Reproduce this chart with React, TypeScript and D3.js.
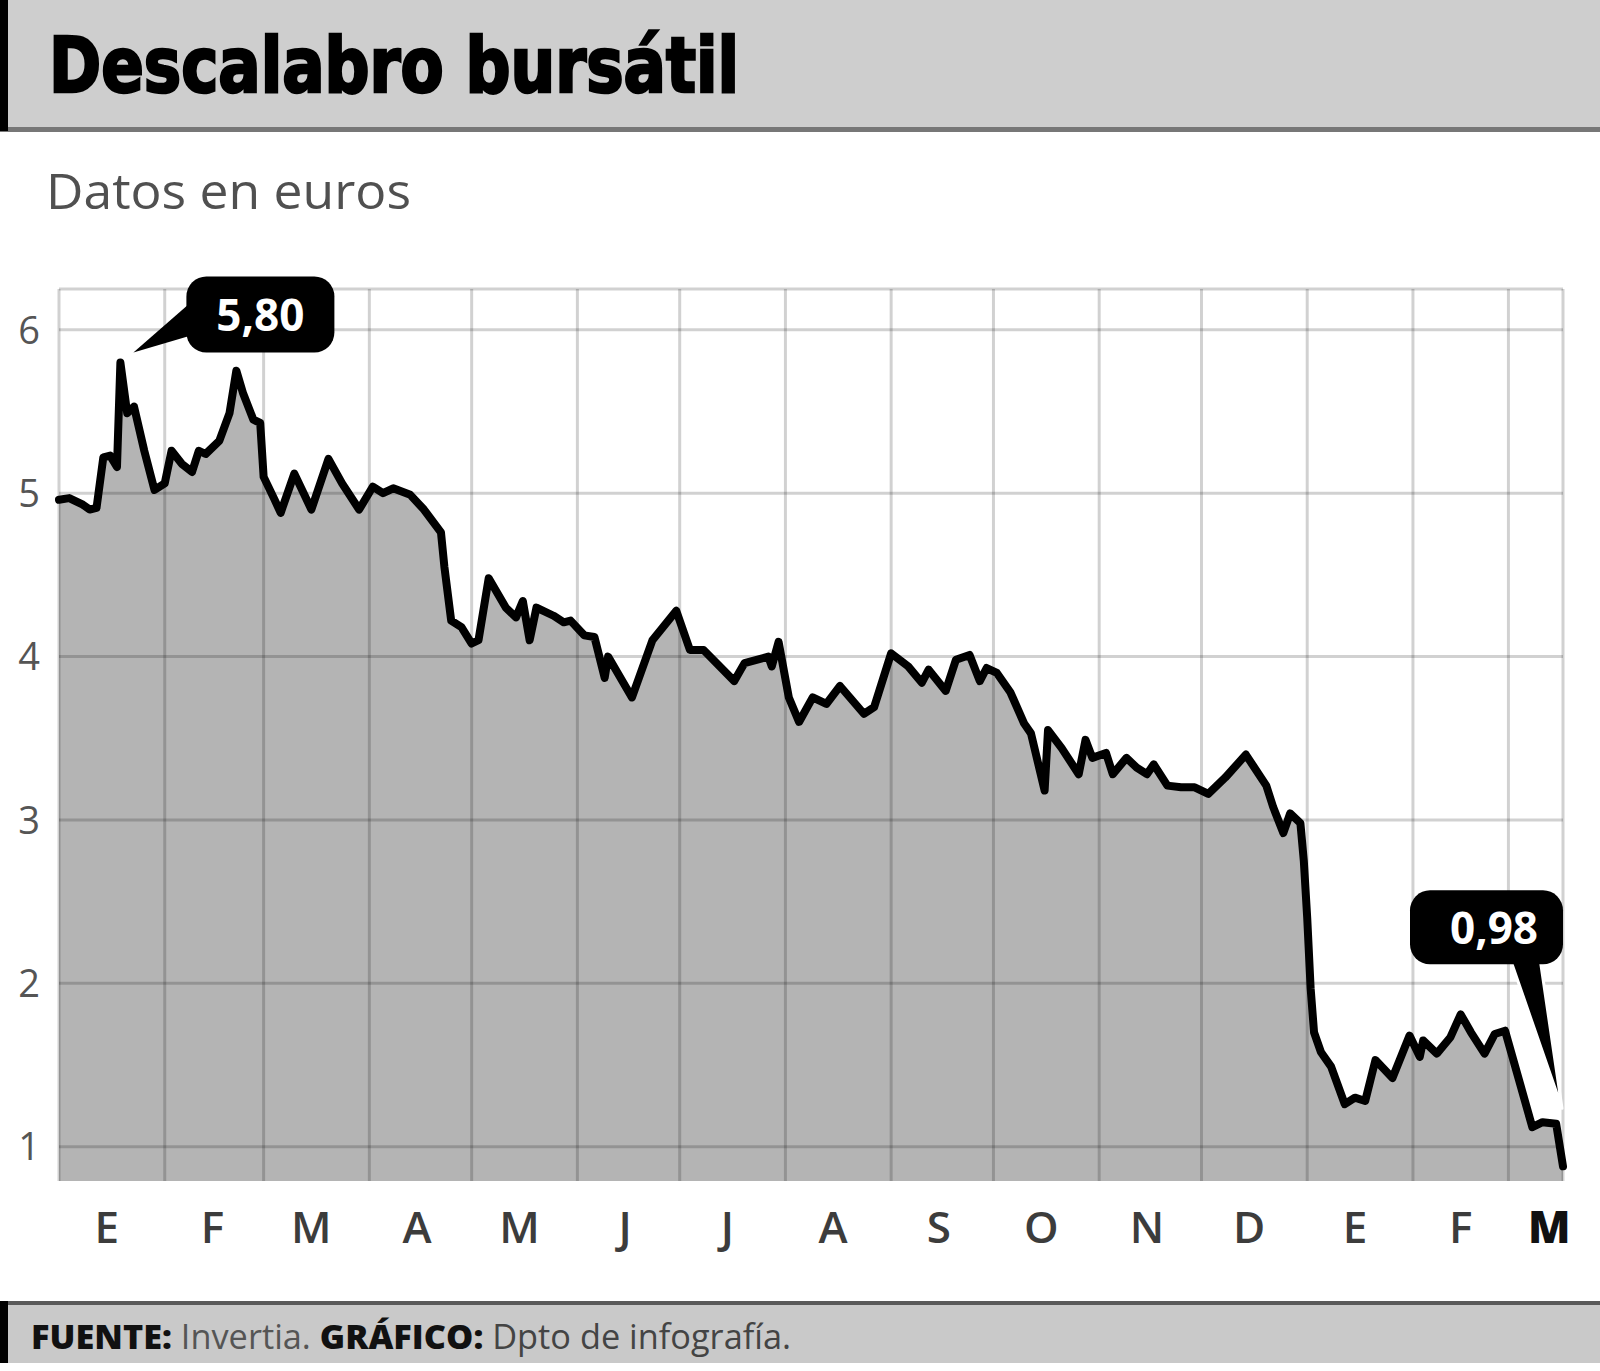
import React from "react";
import * as d3 from "d3";

// ---------- data ----------
const seriesDates: string[] = [
  "2008-01-01", "2008-01-04", "2008-01-08", "2008-01-10", "2008-01-12", "2008-01-14", "2008-01-16", "2008-01-18",
  "2008-01-19", "2008-01-21", "2008-01-23", "2008-01-26", "2008-01-29", "2008-02-01", "2008-02-03", "2008-02-06",
  "2008-02-09", "2008-02-11", "2008-02-13", "2008-02-17", "2008-02-20", "2008-02-22", "2008-02-24", "2008-02-27",
  "2008-02-29", "2008-03-01", "2008-03-04", "2008-03-06", "2008-03-10", "2008-03-15", "2008-03-20", "2008-03-24",
  "2008-03-29", "2008-04-02", "2008-04-05", "2008-04-08", "2008-04-13", "2008-04-17", "2008-04-22", "2008-04-23",
  "2008-04-25", "2008-04-28", "2008-05-01", "2008-05-03", "2008-05-06", "2008-05-11", "2008-05-14", "2008-05-16",
  "2008-05-18", "2008-05-20", "2008-05-25", "2008-05-28", "2008-05-30", "2008-06-03", "2008-06-06", "2008-06-09",
  "2008-06-10", "2008-06-17", "2008-06-23", "2008-06-30", "2008-07-04", "2008-07-08", "2008-07-17", "2008-07-20",
  "2008-07-27", "2008-07-28", "2008-07-30", "2008-08-02", "2008-08-05", "2008-08-09", "2008-08-13", "2008-08-17",
  "2008-08-24", "2008-08-27", "2008-09-01", "2008-09-06", "2008-09-10", "2008-09-12", "2008-09-17", "2008-09-20",
  "2008-09-24", "2008-09-27", "2008-09-29", "2008-10-02", "2008-10-06", "2008-10-10", "2008-10-12", "2008-10-16",
  "2008-10-17", "2008-10-21", "2008-10-26", "2008-10-28", "2008-10-30", "2008-11-03", "2008-11-05", "2008-11-09",
  "2008-11-12", "2008-11-15", "2008-11-17", "2008-11-21", "2008-11-25", "2008-11-29", "2008-12-01", "2008-12-03",
  "2008-12-08", "2008-12-14", "2008-12-20", "2008-12-22", "2008-12-25", "2008-12-27", "2008-12-30", "2008-12-31",
  "2009-01-01", "2009-01-02", "2009-01-03", "2009-01-05", "2009-01-08", "2009-01-12", "2009-01-15", "2009-01-18",
  "2009-01-21", "2009-01-26", "2009-01-31", "2009-02-03", "2009-02-04", "2009-02-08", "2009-02-12", "2009-02-15",
  "2009-02-18", "2009-02-22", "2009-02-25", "2009-02-28", "2009-03-08", "2009-03-11", "2009-03-15", "2009-03-17",
];

const seriesValues: number[] = [
  4.96, 4.97, 4.93, 4.90, 4.91, 5.22, 5.23, 5.16,
  5.80, 5.49, 5.53, 5.26, 5.02, 5.06, 5.26, 5.18,
  5.13, 5.26, 5.24, 5.32, 5.49, 5.75, 5.61, 5.45,
  5.43, 5.10, 4.97, 4.88, 5.12, 4.90, 5.21, 5.06,
  4.90, 5.04, 5.00, 5.03, 4.99, 4.90, 4.76, 4.55,
  4.22, 4.18, 4.08, 4.10, 4.48, 4.30, 4.24, 4.34,
  4.10, 4.30, 4.25, 4.21, 4.22, 4.13, 4.12, 3.87,
  4.00, 3.75, 4.10, 4.28, 4.04, 4.04, 3.85, 3.96,
  4.00, 3.94, 4.09, 3.75, 3.60, 3.75, 3.71, 3.82,
  3.65, 3.69, 4.02, 3.94, 3.84, 3.92, 3.79, 3.98,
  4.01, 3.85, 3.93, 3.90, 3.78, 3.59, 3.53, 3.18,
  3.55, 3.44, 3.28, 3.49, 3.38, 3.41, 3.28, 3.38,
  3.32, 3.28, 3.34, 3.21, 3.20, 3.20, 3.18, 3.16,
  3.26, 3.40, 3.21, 3.08, 2.92, 3.04, 2.98, 2.75,
  2.40, 1.97, 1.70, 1.58, 1.49, 1.26, 1.30, 1.28,
  1.53, 1.42, 1.68, 1.55, 1.65, 1.57, 1.67, 1.81,
  1.70, 1.57, 1.69, 1.71, 1.12, 1.15, 1.14, 0.88,
];

const yTicks: number[] = [1, 2, 3, 4, 5, 6];
const monthLabels: string[] = ["E", "F", "M", "A", "M", "J", "J", "A", "S", "O", "N", "D", "E", "F", "M"];
const domainStart = "2008-01-01";
const domainEnd = "2009-03-17";
const yDomain: [number, number] = [0.79, 6.25];

const titleText = "Descalabro bursátil";
const subtitleText = "Datos en euros";
const peakLabel = "5,80";
const lastLabel = "0,98";

// ---------- component ----------
const W = 1600;
const H = 1371;
const plot = { left: 59, right: 1563, top: 289, bottom: 1181 };

export default function App() {
  const parse = d3.timeParse("%Y-%m-%d");
  const data = seriesDates.map((d, i) => ({ date: parse(d) as Date, value: seriesValues[i] }));
  const start = parse(domainStart) as Date;
  const end = parse(domainEnd) as Date;

  const x = d3.scaleTime().domain([start, end]).range([plot.left, plot.right]);
  const y = d3.scaleLinear().domain(yDomain).range([plot.bottom, plot.top]);

  const line = d3
    .line<{ date: Date; value: number }>()
    .x((d) => x(d.date))
    .y((d) => y(d.value));
  const area = d3
    .area<{ date: Date; value: number }>()
    .x((d) => x(d.date))
    .y0(plot.bottom)
    .y1((d) => y(d.value));

  const monthStarts = d3.timeMonth.range(start, end);
  const vLines = [...monthStarts.map((m) => x(m)), plot.right];
  const hLines = [...yTicks.map((t) => y(t)), plot.top];
  const labelDates = monthStarts.map((m, i) =>
    d3.timeDay.offset(m, i === monthStarts.length - 1 ? 12 : 14)
  );

  // annotations
  const peak = data.reduce((a, b) => (b.value > a.value ? b : a));
  const last = data[data.length - 1];
  const px = x(peak.date);
  const py = y(peak.value);
  const pTip = [px + 13, py - 10];
  const pBox = { x: px + 66, y: py - 86, w: 148, h: 76 };

  const lx = x(last.date);
  const ly = y(last.value);
  const lTip = [lx - 1, ly - 58];
  const lBox = { x: lx - 153, y: ly - 276, w: 153, h: 74 };

  const grid = "rgba(0,0,0,0.18)";

  return (
    <svg
      width={W}
      height={H}
      viewBox={`0 0 ${W} ${H}`}
      style={{ position: "absolute", left: 0, top: 0, display: "block" }}
      fontFamily="'Open Sans', 'DejaVu Sans', sans-serif"
    >
      <rect x={0} y={0} width={W} height={H} fill="#ffffff" />

      {/* header */}
      <rect x={0} y={0} width={W} height={128} fill="#cecece" />
      <rect x={0} y={127} width={W} height={5} fill="#777777" />
      <rect x={0} y={0} width={8} height={131} fill="#000000" />
      <text
        x={49}
        y={92}
        fontFamily="'DejaVu Sans Condensed', 'DejaVu Sans', sans-serif"
        fontWeight={700}
        fontSize={76}
        fill="#000"
        stroke="#000"
        strokeWidth={2.5}
        textLength={690}
        lengthAdjust="spacingAndGlyphs"
      >
        {titleText}
      </text>

      {/* subtitle */}
      <text x={46} y={209} fontSize={50} fill="#505050" textLength={365} lengthAdjust="spacingAndGlyphs">
        {subtitleText}
      </text>

      {/* area */}
      <path d={area(data) || ""} fill="#b4b4b4" />

      {/* grid */}
      <g stroke={grid} strokeWidth={3}>
        {vLines.map((vx, i) => (
          <line key={"v" + i} x1={vx} x2={vx} y1={plot.top} y2={plot.bottom} />
        ))}
        {hLines.map((hy, i) => (
          <line key={"h" + i} x1={plot.left} x2={plot.right} y1={hy} y2={hy} />
        ))}
      </g>

      {/* line */}
      <path
        d={line(data) || ""}
        fill="none"
        stroke="#000"
        strokeWidth={8}
        strokeLinejoin="round"
        strokeLinecap="round"
      />

      {/* y tick labels */}
      {yTicks.map((t) => (
        <text key={"yt" + t} x={29} y={y(t)} dy="0.36em" textAnchor="middle" fontSize={38} fill="#555555">
          {t}
        </text>
      ))}

      {/* month labels */}
      {labelDates.map((d, i) => {
        const lastOne = i === labelDates.length - 1;
        return (
          <text
            key={"m" + i}
            x={x(d)}
            y={1243}
            textAnchor="middle"
            fontSize={44}
            fontWeight={lastOne ? 800 : 600}
            fill={lastOne ? "#111111" : "#3c3c3c"}
          >
            {monthLabels[i]}
          </text>
        );
      })}

      {/* peak annotation */}
      <path
        d={`M${pTip[0]},${pTip[1]} L${pBox.x + 2},${pBox.y + 28} L${pBox.x + 8},${pBox.y + 58} Z`}
        fill="#000"
      />
      <rect x={pBox.x} y={pBox.y} width={pBox.w} height={pBox.h} rx={20} fill="#000" />
      <text
        x={pBox.x + pBox.w / 2}
        y={pBox.y + 54}
        textAnchor="middle"
        fontSize={44}
        fontWeight={700}
        fill="#fff"
      >
        {peakLabel}
      </text>

      {/* last annotation */}
      <path
        d={`M${lTip[0]},${lTip[1]} L${lBox.x + 100},${lBox.y + lBox.h - 6} L${lBox.x + 130},${lBox.y + lBox.h - 6} Z`}
        fill="#000"
        stroke="#fff"
        strokeWidth={3}
        strokeLinejoin="round"
      />
      <rect x={lBox.x} y={lBox.y} width={lBox.w} height={lBox.h} rx={20} fill="#000" />
      <text
        x={lBox.x + 84}
        y={lBox.y + 54}
        textAnchor="middle"
        fontSize={44}
        fontWeight={700}
        fill="#fff"
      >
        {lastLabel}
      </text>

      {/* footer */}
      <rect x={0} y={1301} width={W} height={4} fill="#5a5a5a" />
      <rect x={0} y={1305} width={W} height={58} fill="#c9c9c9" />
      <rect x={0} y={1301} width={8} height={62} fill="#000" />
      <text x={31} y={1349} fontSize={34} textLength={760} lengthAdjust="spacingAndGlyphs">
        <tspan fontWeight={800} fill="#111">FUENTE:</tspan>
        <tspan fill="#555"> Invertia. </tspan>
        <tspan fontWeight={800} fill="#111">GRÁFICO:</tspan>
        <tspan fill="#444"> Dpto de infografía.</tspan>
      </text>
    </svg>
  );
}
